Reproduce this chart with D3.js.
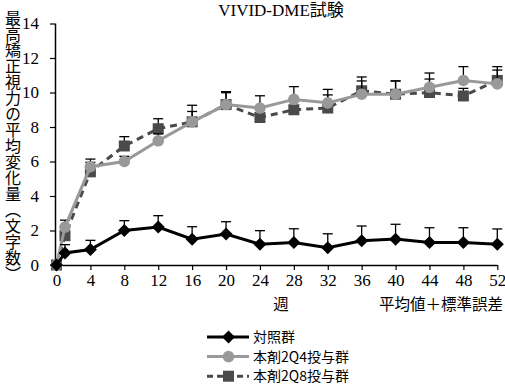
<!DOCTYPE html>
<html><head><meta charset="utf-8">
<script src="https://cdn.jsdelivr.net/npm/d3@7"></script>
<style>
html,body{margin:0;padding:0;background:#fff;}
svg{display:block;}
</style></head>
<body>
<svg id="chart" width="505" height="385"></svg>
<script>
const weeks = [0,1,4,8,12,16,20,24,28,32,36,40,44,48,52];
const xTicks = [0,4,8,12,16,20,24,28,32,36,40,44,48,52];
const yTicks = [0,2,4,6,8,10,12,14];
const seriesNames = ["対照群","本剤2Q4投与群","本剤2Q8投与群"];
const controlMean = [0,0.7,0.9,2.0,2.2,1.5,1.8,1.2,1.3,1.0,1.4,1.5,1.3,1.3,1.2];
const controlUpper = [null,1.18,1.43,2.57,2.86,2.22,2.51,1.99,2.1,1.81,2.26,2.36,2.16,2.16,2.09];
const q4Mean = [0,2.2,5.7,6.0,7.2,8.3,9.3,9.1,9.6,9.4,9.9,9.9,10.3,10.7,10.5];
const q4Upper = [null,2.6,5.95,6.3,7.6,8.9,9.99,9.81,10.34,10.18,10.67,10.67,11.13,11.5,11.3];
const q8Mean = [0,1.7,5.4,6.9,7.9,8.3,9.3,8.55,9.0,9.1,10.1,9.9,10.0,9.8,10.7];
const q8Upper = [null,2.09,6.14,7.44,8.48,9.26,10.05,9.18,9.66,9.86,10.9,10.67,10.78,10.24,11.5];
const titleText = "VIVID-DME試験";
const yTitle = "最高矯正視力の平均変化量（文字数）";
const xTitle = "週";
const noteText = "平均値＋標準誤差";

const svg = d3.select("#chart");
const serif = "'Liberation Serif','DejaVu Serif','Noto Sans CJK JP',serif";
const cjk = "'Noto Sans CJK JP',sans-serif";
const x = d3.scaleLinear().domain([0,52]).range([56.5,497.3]);
const y = d3.scaleLinear().domain([0,14]).range([265,23.5]);

// axes
const gx = svg.append("g").attr("transform","translate(0,265)")
  .call(d3.axisBottom(x).tickValues(xTicks).tickSize(5).tickPadding(4).tickSizeOuter(0));
const gy = svg.append("g").attr("transform","translate(55,0)")
  .call(d3.axisLeft(y).tickValues(yTicks).tickSize(5).tickPadding(11).tickSizeOuter(0));
[gx,gy].forEach(g=>{
  g.select(".domain").attr("stroke","#000").attr("stroke-width",1.5);
  g.selectAll(".tick line").attr("stroke","#000").attr("stroke-width",1.2);
  g.selectAll(".tick text").attr("fill","#000").style("font-family",serif).style("font-size","17px");
});
gx.select(".domain").attr("d","M55,0.5H497.5");
gy.select(".domain").attr("d","M0.5,23.5V265");

const series = [
  {mean:q8Mean, upper:q8Upper, color:"#4a4a4a", dash:"7,5", shape:"square"},
  {mean:q4Mean, upper:q4Upper, color:"#999999", dash:null, shape:"circle"},
  {mean:controlMean, upper:controlUpper, color:"#000000", dash:null, shape:"diamond"}
];
const line = d3.line().x(d=>x(d.w)).y(d=>y(d.v));

function drawMarker(g, shape, color, cx, cy){
  if(shape==="circle") g.append("circle").attr("cx",cx).attr("cy",cy).attr("r",5.8).attr("fill",color);
  else if(shape==="square") g.append("rect").attr("x",cx-5.5).attr("y",cy-5.5).attr("width",11).attr("height",11).attr("fill",color);
  else g.append("path").attr("d",`M${cx},${cy-6.5}L${cx+6.5},${cy}L${cx},${cy+6.5}L${cx-6.5},${cy}Z`).attr("fill",color);
}

series.forEach(s=>{
  const pts = weeks.map((w,i)=>({w, v:s.mean[i], u:s.upper[i]}));
  const g = svg.append("g");
  pts.filter(p=>p.u!=null).forEach(p=>{
    g.append("line").attr("x1",x(p.w)).attr("x2",x(p.w)).attr("y1",y(p.v)).attr("y2",y(p.u)).attr("stroke","#000").attr("stroke-width",1.3);
    g.append("line").attr("x1",x(p.w)-5).attr("x2",x(p.w)+5).attr("y1",y(p.u)).attr("y2",y(p.u)).attr("stroke","#000").attr("stroke-width",1.3);
  });
  g.append("path").attr("d",line(pts)).attr("fill","none").attr("stroke",s.color).attr("stroke-width",3)
    .attr("stroke-dasharray",s.dash);
  pts.forEach(p=>drawMarker(g,s.shape,s.color,x(p.w),y(p.v)));
});

// title
svg.append("text").attr("x",281).attr("y",16).attr("text-anchor","middle")
  .style("font-family",serif).style("font-size","17px").text(titleText);
// y title vertical
svg.append("text").attr("x",13).attr("y",10)
  .style("writing-mode","vertical-rl").style("font-family",cjk)
  .style("font-size","16px").text(yTitle);
svg.append("text").attr("x",281).attr("y",310).attr("text-anchor","middle")
  .style("font-family",cjk).style("font-size","15.5px").text(xTitle);
svg.append("text").attr("x",503).attr("y",310).attr("text-anchor","end")
  .style("font-family",cjk).style("font-size","15.5px").text(noteText);

// legend
const legendOrder = [
  {name:seriesNames[0], color:"#000000", dash:null, shape:"diamond"},
  {name:seriesNames[1], color:"#999999", dash:null, shape:"circle"},
  {name:seriesNames[2], color:"#4a4a4a", dash:"7,5", shape:"square"}
];
legendOrder.forEach((d,i)=>{
  const ly = 337 + i*19.6;
  const g = svg.append("g");
  g.append("line").attr("x1",207).attr("x2",249).attr("y1",ly).attr("y2",ly)
    .attr("stroke",d.color).attr("stroke-width",3).attr("stroke-dasharray",d.dash ? "6,4" : null);
  drawMarker(g,d.shape,d.color,228.5,ly);
  g.append("text").attr("x",253).attr("y",ly+5).style("font-family",cjk)
    .style("font-size","14px").text(d.name);
});
</script>
</body></html>
